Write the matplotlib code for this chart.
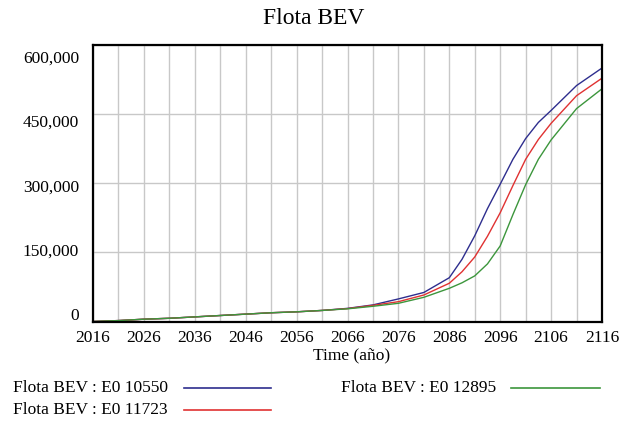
import matplotlib
matplotlib.use("Agg")
import matplotlib.pyplot as plt
import matplotlib.transforms as mtransforms
from matplotlib.lines import Line2D

# values (Vensim style output)
years = [2016, 2021, 2026, 2031, 2036, 2041, 2046, 2051, 2056, 2061, 2066,
         2071, 2076, 2081, 2086, 2088.5, 2091, 2093.5, 2096, 2098.5, 2101,
         2103.5, 2106, 2111, 2116]
e0_10550 = [0, 2000, 5000, 7000, 10000, 13000, 16000, 19000, 21000, 24000,
            28500, 36000, 49000, 63000, 95000, 135000, 186000, 245000, 298000,
            352000, 397000, 432000, 458000, 512000, 550000]
e0_11723 = [0, 2000, 5000, 7000, 10000, 13000, 16000, 19000, 21000, 24000,
            28000, 35000, 43000, 57500, 83000, 108000, 140000, 185000, 236000,
            295000, 352000, 395000, 430000, 490000, 528000]
e0_12895 = [0, 2000, 5000, 7000, 10000, 13000, 16000, 19000, 21000, 24000,
            27500, 33000, 39500, 52500, 72000, 84000, 99000, 125000, 164000,
            232000, 297000, 352000, 394000, 462000, 505000]

series_labels = ["Flota BEV : E0 10550", "Flota BEV : E0 11723", "Flota BEV : E0 12895"]
colors = ["#2e2e8e", "#e03232", "#3c963c"]

x_ticks = list(range(2016, 2117, 10))
y_ticks = [0, 150000, 300000, 450000, 600000]

plt.rcParams['font.family'] = ['Liberation Serif', 'DejaVu Serif']
FS = 12.5

fig = plt.figure(figsize=(6.21, 4.21), dpi=100)
ax = fig.add_axes([93 / 621, 1 - 321.5 / 421, 509 / 621, 276.5 / 421])

for vals, c in zip([e0_10550, e0_11723, e0_12895], colors):
    ax.plot(years, vals, color=c, linewidth=1.0)

ax.set_xlim(2016, 2116)
ax.set_ylim(0, 600000)
ax.set_xticks(x_ticks)
ax.set_xticks(range(2016, 2117, 5), minor=True)
ax.set_yticks(y_ticks)
ax.set_yticklabels([f"{v:,}" for v in y_ticks])
ax.grid(True, which='both', axis='x', color='#c8c8c8', linewidth=1.0)
ax.grid(True, axis='y', color='#c8c8c8', linewidth=1.0)
ax.tick_params(which='both', length=0, labelsize=FS)
ax.tick_params(axis='y', pad=10)
ax.tick_params(axis='x', pad=6)
for side, sp in ax.spines.items():
    sp.set_color('black')
    sp.set_linewidth(1.6)
    sp.set_zorder(5)

# Vensim spreads the y labels a little tighter than the gridlines
for i, lbl in enumerate(ax.get_yticklabels()):
    dy = (-8 + 5 * i) / 100
    lbl.set_transform(lbl.get_transform() + mtransforms.ScaledTranslation(0, -dy, fig.dpi_scale_trans))

ax.set_xlabel("Time (año)", fontsize=FS)
ax.xaxis.set_label_coords((352 - 93) / 509, -(355 - 321.5) / 276.5)
ax.xaxis.label.set_va('center')
fig.text(314 / 621, 1 - 19 / 421, "Flota BEV", ha='center', va='center', fontsize=17)

# legend in two columns under the chart
rows = [(13, 184, 271, 388), (13, 184, 271, 410), (341, 511, 600, 388)]
for (tx, l0, l1, ty), lab, c in zip(rows, series_labels, colors):
    fig.text(tx / 621, 1 - ty / 421, lab, ha='left', va='center', fontsize=FS)
    fig.add_artist(Line2D([l0 / 621, l1 / 621], [1 - ty / 421] * 2,
                          transform=fig.transFigure, color=c, linewidth=1.2))

plt.savefig("out.png", dpi=100)
